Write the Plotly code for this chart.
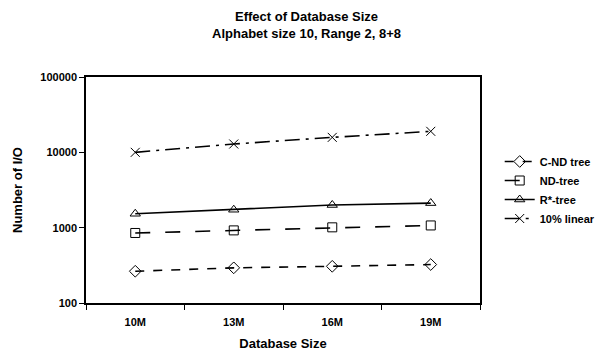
import plotly.graph_objects as go

categories = ["10M", "13M", "16M", "19M"]
cnd_tree = [264, 293, 307, 324]
nd_tree = [850, 920, 1010, 1070]
rstar_tree = [1530, 1730, 2000, 2120]
linear_10 = [10000, 12900, 15800, 19000]
y_ticks = [100, 1000, 10000, 100000]

series = [
    ("C-ND tree", cnd_tree, "dash", "diamond-open"),
    ("ND-tree", nd_tree, "longdash", "square-open"),
    ("R*-tree", rstar_tree, "solid", "triangle-up-open"),
    ("10% linear", linear_10, "longdashdot", "x-thin-open"),
]

fig = go.Figure()
for name, vals, dash, sym in series:
    fig.add_trace(go.Scatter(
        x=categories, y=vals, name=f"<b>{name}</b>", mode="lines+markers",
        line=dict(color="black", width=1.6, dash=dash),
        marker=dict(symbol=sym, size=9, color="black",
                    line=dict(color="black", width=1)),
    ))

font = "Liberation Sans, Arial, sans-serif"
fig.update_layout(
    width=597, height=350,
    margin=dict(l=78, r=125, t=69, b=55, autoexpand=False),
    paper_bgcolor="white", plot_bgcolor="white",
    font=dict(family=font, color="black", size=11),
    title=dict(
        text="<b>Effect of Database Size</b><br><b>Alphabet size 10, Range 2, 8+8</b>",
        x=0.5, xanchor="center", y=0.962, yanchor="middle",
        font=dict(size=13, family=font, color="black"),
    ),
    showlegend=True,
    legend=dict(
        x=1.05, xanchor="left", y=0.5, yanchor="middle",
        font=dict(size=11, family=font, color="black"),
        itemwidth=30, bgcolor="rgba(0,0,0,0)",
    ),
)
fig.update_xaxes(
    type="category", range=[-0.5, 3.5], showline=True, linecolor="black", linewidth=1.5,
    mirror=True, ticks="outside", tickson="boundaries", ticklen=5,
    tickcolor="black", showgrid=False, automargin=False,
    tickvals=categories, ticktext=[f"<b>{c}</b>" for c in categories],
    tickfont=dict(size=11, family=font, color="black"),
    ticklabelstandoff=8,
    title=dict(text="<b>Database Size</b>", font=dict(size=13, family=font), standoff=12),
)
fig.update_yaxes(
    type="log", range=[2, 5], showline=True, linecolor="black", linewidth=1.5,
    mirror=True, ticks="outside", ticklen=5, tickcolor="black", showgrid=False,
    automargin=False,
    tickvals=y_ticks, ticktext=[f"<b>{v}</b>" for v in y_ticks],
    tickfont=dict(size=11, family=font, color="black"),
    title=dict(text="<b>Number of I/O</b>", font=dict(size=13, family=font), standoff=15),
)

fig.write_html("out.html")
